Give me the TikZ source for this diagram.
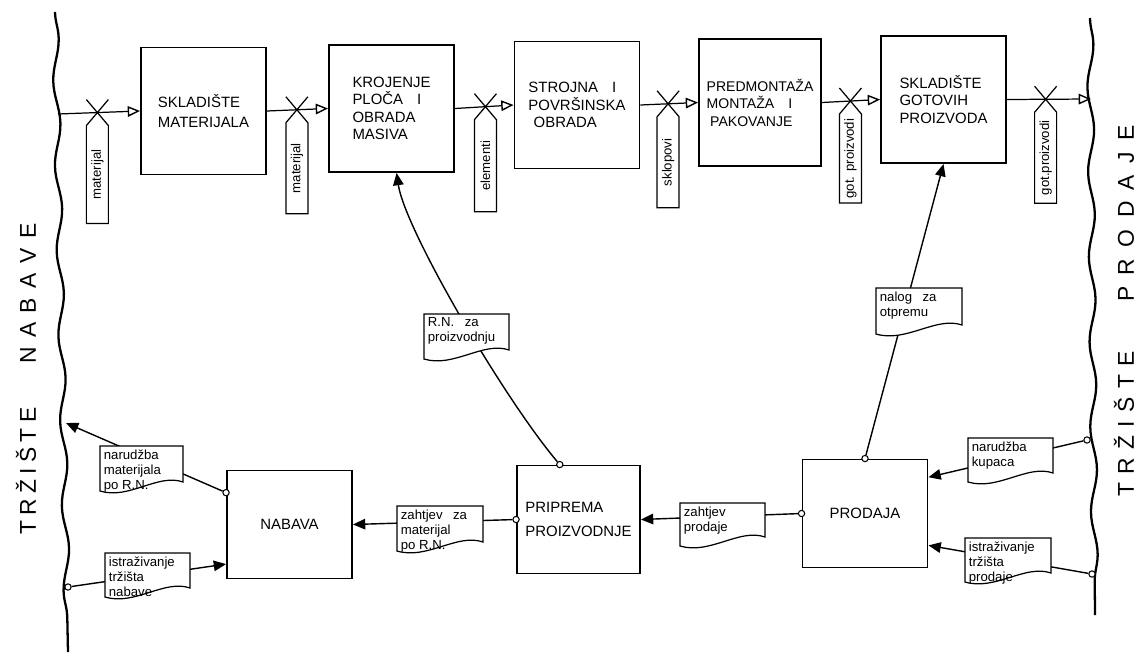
\documentclass[tikz,border=0pt]{standalone}
\usepackage{fontspec}
\setmainfont{Liberation Sans}
\usetikzlibrary{arrows.meta,calc,decorations.pathmorphing}
\newcommand\tagmark[4]{% coordinate, bottom offset, name, text
  \draw[tagline] ($(#1)+(-11,-13)$) -- ($(#1)+(11,13)$) -- ($(#1)+(11,#2)$) -- ($(#1)+(-11,#2)$) -- ($(#1)+(-11,13)$) -- ($(#1)+(11,-13)$);
  \node[tagtext] (#3) at ($(#1)+(0,{(13+#2)/2})$) {#4};}
\newcommand\docnote[6]{% name x1 y1 x2 y2 text
  \draw[docline] (#2,#3) -- (#4,#3) -- (#4,#5) .. controls ({#4-0.3*(#4-#2)},{#5-9}) and ({#2+0.35*(#4-#2)},{#5+18}) .. (#2,{#5+9}) -- cycle;
  \node[doctext] (#1) at (#2,#3) {#6};}
\begin{document}
\begin{tikzpicture}[x=0.02cm,y=-0.02cm,
  box/.style={draw, line width=1.1pt, minimum width=2.5cm, minimum height=2.54cm, align=left, inner sep=2pt, font=\fontsize{8.5}{10}\selectfont},
  lbox/.style={box, minimum height=2.16cm},
  flow/.style={line width=0.7pt, -{Triangle[open,length=7pt,width=6pt,line width=0.8pt]}},
  conn/.style={line width=0.8pt, -{Triangle[length=7pt,width=6pt]}},
  dot/.style={circle, draw, fill=white, line width=0.6pt, minimum size=3.6pt, inner sep=0pt},
  wave/.style={line width=1.3pt, decorate, decoration={snake, amplitude=1.8pt, segment length=1.7cm}},
  docline/.style={fill=white, line width=0.7pt},
  doctext/.style={font=\fontsize{7.5}{8.5}\selectfont, align=left, inner sep=2pt, anchor=north west},
  tagline/.style={line width=0.7pt},
  tagtext/.style={font=\fontsize{7.5}{8}\selectfont, rotate=90, inner sep=0pt},
  side/.style={font=\fontsize{13}{15}\selectfont, rotate=90, inner sep=0pt}]
\useasboundingbox (0,0) rectangle (1145,656);

% market boundaries
\draw[wave] (55,12) -- (68,652);
\draw[wave] (1090,18) -- (1095,615);
\node[side] (tn) at (26,379) {T\hspace{3pt}R\hspace{3pt}Ž\hspace{3pt}I\hspace{3pt}Š\hspace{3pt}T\hspace{3pt}E\hspace{25pt}N\hspace{5.4pt}A\hspace{5.4pt}B\hspace{5.4pt}A\hspace{5.4pt}V\hspace{5.4pt}E};
\node[side] (tp) at (1124,311) {T\hspace{4.8pt}R\hspace{4.8pt}Ž\hspace{4.8pt}I\hspace{4.8pt}Š\hspace{4.8pt}T\hspace{4.8pt}E\hspace{28pt}P\hspace{6.5pt}R\hspace{6.5pt}O\hspace{6.5pt}D\hspace{6.5pt}A\hspace{6.5pt}J\hspace{6.5pt}E};

% production chain
\node[box, font=\fontsize{8.5}{11.5}\selectfont] (b1) at (203.5,111) {SKLADIŠTE\\MATERIJALA};
\node[box] (kr) at (391.5,108.5) {KROJENJE\\PLOČA\hspace{8pt}I\\OBRADA\\MASIVA};
\node[box] (b3) at (577,105) {STROJNA\hspace{8pt}I\\POVRŠINSKA\\\hspace{3pt}OBRADA};
\node[box, minimum width=2.44cm, font=\fontsize{8}{10}\selectfont] (b4) at (760,102.5) {PREDMONTAŽA\\MONTAŽA\hspace{8pt}I\\\hspace{2pt}PAKOVANJE};
\node[box] (sg) at (943.5,99.5) {SKLADIŠTE\\GOTOVIH\\PROIZVODA};

% business functions
\node[lbox] (nab) at (289.5,524.5) {NABAVA};
\node[lbox, minimum width=2.46cm, font=\fontsize{8.5}{13.5}\selectfont] (pp) at (578.5,519.5) {PRIPREMA\\PROIZVODNJE};
\node[lbox] (prod) at (865,513.5) {PRODAJA};

% connection points
\coordinate (wl1) at (58,114);
\coordinate (wr1) at (1091,99);
\coordinate (wl2) at (66,423);
\coordinate (wl3) at (68,587);
\node[dot] (wlD) at (wl3) {};
\node[dot] (wr2) at (1087,440) {};
\node[dot] (wr3) at (1092,574) {};
\node[dot] (nabD) at ($(nab.north west)!0.21!(nab.south west)$) {};
\node[dot] (ppW) at (pp.west) {};
\node[dot] (ppN) at ($(pp.north west)!0.35!(pp.north east)$) {};
\node[dot] (prodW) at (prod.west) {};
\node[dot] (prodN) at (prod.north) {};
\coordinate (nabW2) at ($(nab.north west)!0.86!(nab.south west)$);
\coordinate (prodE1) at ($(prod.north east)!0.17!(prod.south east)$);
\coordinate (prodE2) at ($(prod.north east)!0.79!(prod.south east)$);
\coordinate (krS) at ($(kr.south west)!0.54!(kr.south east)$);

% material flow
\draw[flow] (wl1) -- (b1.west) coordinate[pos=0.48] (t1);
\draw[flow] (b1.east) -- (kr.west) coordinate[pos=0.49] (t2);
\draw[flow] (kr.east) -- (b3.west) coordinate[pos=0.52] (t3);
\draw[flow] (b3.east) -- (b4.west) coordinate[pos=0.48] (t4);
\draw[flow] (b4.east) -- (sg.west) coordinate[pos=0.49] (t5);
\draw[flow] (sg.east) -- (wr1) coordinate[pos=0.46] (t6);

% information flow
\draw[conn] (nabD) -- (wl2);
\draw[conn] (wlD) -- (nabW2);
\draw[conn] (ppW) -- (nab.east);
\draw[conn] (prodW) -- (pp.east);
\draw[conn] (ppN) .. controls (505,400) and (405,230) .. (krS);
\draw[conn] (prodN) -- (sg.south);
\draw[conn] (wr2) -- (prodE1);
\draw[conn] (wr3) -- (prodE2);

% documents
\docnote{d1}{100}{446}{183}{482}{narudžba\\materijala\\po R.N.}
\docnote{d2}{105}{553}{190}{588}{istraživanje\\tržišta\\nabave}
\docnote{d3}{397}{506}{483}{542}{zahtjev\hspace{6pt}za\\materijal\\po R.N.}
\docnote{d4}{424}{314}{509}{350}{R.N.\hspace{6pt}za\\proizvodnju}
\docnote{d5}{680}{503}{765}{537}{zahtjev\\prodaje}
\docnote{d6}{876}{288}{962}{325}{nalog\hspace{6pt}za\\otpremu}
\docnote{d7}{968}{438}{1053}{473}{narudžba\\kupaca}
\docnote{d8}{965}{538}{1051}{573}{istraživanje\\tržišta\\prodaje}

% flow tags
\tagmark{t1}{111}{g1}{materijal}
\tagmark{t2}{104}{g2}{materijal}
\tagmark{t3}{105}{g3}{elementi}
\tagmark{t4}{104}{g4}{sklopovi}
\tagmark{t5}{102}{g5}{got. proizvodi}
\tagmark{t6}{104}{g6}{got.proizvodi}
\end{tikzpicture}
\end{document}
